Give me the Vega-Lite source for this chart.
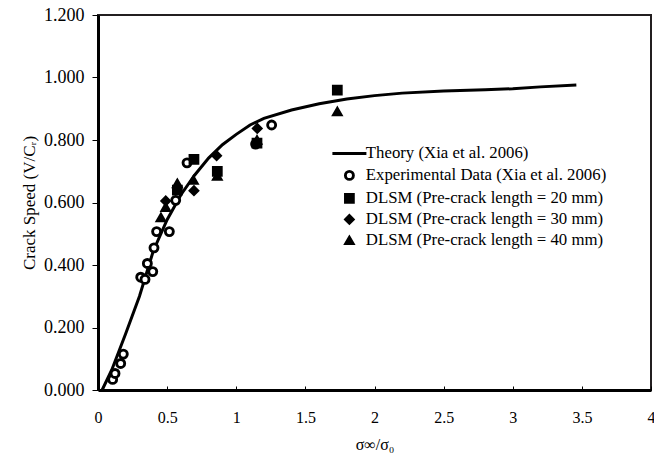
{
  "$schema": "https://vega.github.io/schema/vega-lite/v6.json",
  "width": 553,
  "height": 375,
  "autosize": {"type": "none"},
  "padding": {"left": 98, "top": 15, "right": 3, "bottom": 66},
  "background": "white",
  "config": {
    "font": "Liberation Serif",
    "view": {"stroke": "#231f20", "strokeWidth": 2},
    "axis": {"grid": false, "domainColor": "#000", "domainWidth": 3, "tickColor": "#000", "labelColor": "#000", "titleColor": "#000", "labelFont": "Liberation Serif", "titleFont": "Liberation Serif", "labelFontSize": 16, "titleFontSize": 16, "titleFontWeight": "normal"}
  },
  "datasets": {
    "theory": [
      {"x": 0.03, "y": 0.0}, {"x": 0.1, "y": 0.065}, {"x": 0.2, "y": 0.18}, {"x": 0.3, "y": 0.30},
      {"x": 0.4, "y": 0.445}, {"x": 0.5, "y": 0.545}, {"x": 0.6, "y": 0.625}, {"x": 0.7, "y": 0.688},
      {"x": 0.8, "y": 0.742}, {"x": 0.9, "y": 0.785}, {"x": 1.0, "y": 0.818}, {"x": 1.1, "y": 0.848},
      {"x": 1.2, "y": 0.869}, {"x": 1.4, "y": 0.896}, {"x": 1.6, "y": 0.916}, {"x": 1.8, "y": 0.931},
      {"x": 2.0, "y": 0.942}, {"x": 2.2, "y": 0.950}, {"x": 2.5, "y": 0.957}, {"x": 2.8, "y": 0.961},
      {"x": 3.0, "y": 0.964}, {"x": 3.2, "y": 0.970}, {"x": 3.46, "y": 0.976}
    ],
    "points": [
      {"series": "Experimental Data (Xia et al. 2006)", "x": 0.106, "y": 0.034},
      {"series": "Experimental Data (Xia et al. 2006)", "x": 0.123, "y": 0.053},
      {"series": "Experimental Data (Xia et al. 2006)", "x": 0.164, "y": 0.085},
      {"series": "Experimental Data (Xia et al. 2006)", "x": 0.183, "y": 0.115},
      {"series": "Experimental Data (Xia et al. 2006)", "x": 0.309, "y": 0.361},
      {"series": "Experimental Data (Xia et al. 2006)", "x": 0.34, "y": 0.354},
      {"series": "Experimental Data (Xia et al. 2006)", "x": 0.357, "y": 0.405},
      {"series": "Experimental Data (Xia et al. 2006)", "x": 0.396, "y": 0.379},
      {"series": "Experimental Data (Xia et al. 2006)", "x": 0.405, "y": 0.455},
      {"series": "Experimental Data (Xia et al. 2006)", "x": 0.424, "y": 0.507},
      {"series": "Experimental Data (Xia et al. 2006)", "x": 0.516, "y": 0.507},
      {"series": "Experimental Data (Xia et al. 2006)", "x": 0.562, "y": 0.607},
      {"series": "Experimental Data (Xia et al. 2006)", "x": 0.644, "y": 0.727},
      {"series": "Experimental Data (Xia et al. 2006)", "x": 1.14, "y": 0.787},
      {"series": "Experimental Data (Xia et al. 2006)", "x": 1.256, "y": 0.848},
      {"series": "DLSM (Pre-crack length = 20 mm)", "x": 0.574, "y": 0.64},
      {"series": "DLSM (Pre-crack length = 20 mm)", "x": 0.694, "y": 0.738},
      {"series": "DLSM (Pre-crack length = 20 mm)", "x": 0.863, "y": 0.70},
      {"series": "DLSM (Pre-crack length = 20 mm)", "x": 1.15, "y": 0.79},
      {"series": "DLSM (Pre-crack length = 20 mm)", "x": 1.731, "y": 0.96},
      {"series": "DLSM (Pre-crack length = 30 mm)", "x": 0.49, "y": 0.605},
      {"series": "DLSM (Pre-crack length = 30 mm)", "x": 0.694, "y": 0.638},
      {"series": "DLSM (Pre-crack length = 30 mm)", "x": 0.858, "y": 0.75},
      {"series": "DLSM (Pre-crack length = 30 mm)", "x": 1.152, "y": 0.837},
      {"series": "DLSM (Pre-crack length = 40 mm)", "x": 0.455, "y": 0.552},
      {"series": "DLSM (Pre-crack length = 40 mm)", "x": 0.49, "y": 0.585},
      {"series": "DLSM (Pre-crack length = 40 mm)", "x": 0.574, "y": 0.661},
      {"series": "DLSM (Pre-crack length = 40 mm)", "x": 0.69, "y": 0.672},
      {"series": "DLSM (Pre-crack length = 40 mm)", "x": 0.863, "y": 0.685},
      {"series": "DLSM (Pre-crack length = 40 mm)", "x": 1.15, "y": 0.80},
      {"series": "DLSM (Pre-crack length = 40 mm)", "x": 1.731, "y": 0.891}
    ]
  },
  "layer": [
    {
      "data": {"name": "theory"},
      "mark": {"type": "line", "color": "#000", "strokeWidth": 3},
      "encoding": {
        "x": {"field": "x", "type": "quantitative", "scale": {"domain": [0, 4], "nice": false},
          "axis": {"values": [0, 0.5, 1, 1.5, 2, 2.5, 3, 3.5, 4], "format": "~g", "tickSize": -4, "tickWidth": 1, "labelPadding": 23, "labelFlush": false, "title": "σ∞/σ₀", "titlePadding": 11}},
        "y": {"field": "y", "type": "quantitative", "scale": {"domain": [0, 1.2], "nice": false},
          "axis": {"values": [0, 0.2, 0.4, 0.6, 0.8, 1.0, 1.2], "format": ".3f", "tickSize": 6, "tickWidth": 1, "labelPadding": 8, "labelFontSize": 18, "title": "Crack Speed (V/Cᵣ)", "titleFontSize": 17, "titlePadding": 5}}
      }
    },
    {
      "data": {"name": "points"},
      "mark": {"type": "point", "filled": true, "opacity": 1, "size": 64},
      "encoding": {
        "x": {"field": "x", "type": "quantitative"},
        "y": {"field": "y", "type": "quantitative"},
        "shape": {"field": "series", "type": "nominal",
          "scale": {"domain": ["Theory (Xia et al. 2006)", "Experimental Data (Xia et al. 2006)", "DLSM (Pre-crack length = 20 mm)", "DLSM (Pre-crack length = 30 mm)", "DLSM (Pre-crack length = 40 mm)"],
            "range": ["M-4.25,0H4.25", "circle", "square", "diamond", "triangle-up"]},
          "legend": {"title": null, "orient": "none", "legendX": 243, "legendY": 130, "padding": 0, "symbolSize": 64, "labelOffset": 8, "labelFontSize": 16.8, "labelFont": "Liberation Serif", "labelColor": "#000", "rowPadding": 2, "labelLimit": 400}},
        "fill": {"field": "series", "type": "nominal",
          "scale": {"domain": ["Theory (Xia et al. 2006)", "Experimental Data (Xia et al. 2006)", "DLSM (Pre-crack length = 20 mm)", "DLSM (Pre-crack length = 30 mm)", "DLSM (Pre-crack length = 40 mm)"],
            "range": ["#ffffff", "#ffffff", "#000000", "#000000", "#000000"]}},
        "stroke": {"field": "series", "type": "nominal",
          "scale": {"domain": ["Theory (Xia et al. 2006)", "Experimental Data (Xia et al. 2006)", "DLSM (Pre-crack length = 20 mm)", "DLSM (Pre-crack length = 30 mm)", "DLSM (Pre-crack length = 40 mm)"],
            "range": ["#000000", "#000000", "#000000", "#000000", "#000000"]}},
        "strokeWidth": {"field": "series", "type": "nominal",
          "scale": {"domain": ["Theory (Xia et al. 2006)", "Experimental Data (Xia et al. 2006)", "DLSM (Pre-crack length = 20 mm)", "DLSM (Pre-crack length = 30 mm)", "DLSM (Pre-crack length = 40 mm)"],
            "range": [3, 2.5, 0, 0, 0]}}
      }
    }
  ]
}
